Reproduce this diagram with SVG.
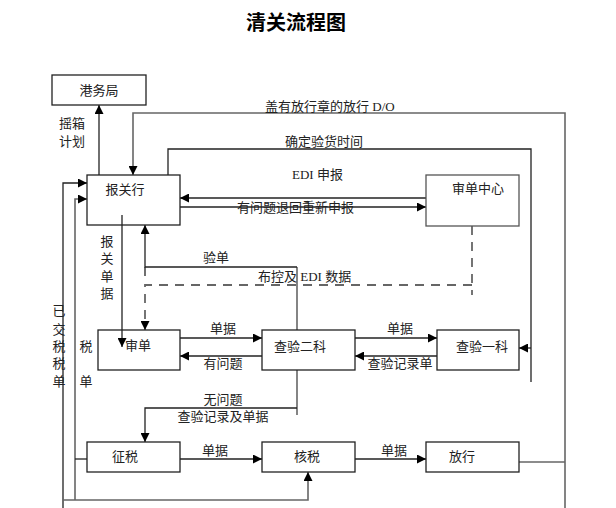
<svg xmlns="http://www.w3.org/2000/svg" width="616" height="508" viewBox="0 0 616 508">
<style>
text{font-family:"Liberation Serif","Noto Sans CJK SC",serif;font-size:13px;fill:#222}
.t{font-family:"Noto Sans CJK SC",sans-serif;font-size:20px;font-weight:bold;fill:#000}
.m{text-anchor:middle}
.box{fill:#fff;stroke:#222;stroke-width:1.3}
.ln{fill:none;stroke:#222;stroke-width:1.3}
.gl{fill:none;stroke:#666;stroke-width:1.6}
.ds{fill:none;stroke:#666;stroke-width:1.8;stroke-dasharray:9,7}
</style>
<defs>
<marker id="ar" viewBox="0 0 10 10" refX="10" refY="5" markerWidth="9" markerHeight="9" markerUnits="userSpaceOnUse" orient="auto"><path d="M0,0 L10,5 L0,10 z" fill="#000"/></marker>
</defs>
<rect width="616" height="508" fill="#fff"/>
<text class="t m" x="296" y="30">清关流程图</text>

<g id="connectors">
<path class="ln" d="M99,175 V105" marker-end="url(#ar)"/>
<path class="gl" d="M565,508 V113 H133 V175" marker-end="url(#ar)"/>
<path class="gl" d="M519,462 H565"/>
<path class="ln" d="M168,175 V149 H531 V382"/>
<path class="ln" d="M531,348 H519" marker-end="url(#ar)"/>
<path class="ln" d="M426,198 H180" marker-end="url(#ar)"/>
<path class="ln" d="M180,207 H426" marker-end="url(#ar)"/>
<path class="ds" d="M472,226 V295"/>
<path class="ds" d="M472,285 H145 V330" marker-end="url(#ar)"/>
<path class="gl" d="M297,330 V267"/>
<path class="ln" d="M297,267 H145 V225" marker-end="url(#ar)"/>
<path class="ln" d="M145,267 V276"/>
<path class="ln" d="M122,215 V347" marker-end="url(#ar)"/>
<path class="ln" d="M180,338 H262" marker-end="url(#ar)"/>
<path class="ln" d="M262,356 H180" marker-end="url(#ar)"/>
<path class="ln" d="M355,338 H437" marker-end="url(#ar)"/>
<path class="ln" d="M437,356 H355" marker-end="url(#ar)"/>
<path class="gl" d="M297,370 V415"/>
<path class="ln" d="M297,408 H145 V442" marker-end="url(#ar)"/>
<path class="ln" d="M180,459 H262" marker-end="url(#ar)"/>
<path class="ln" d="M355,459 H426" marker-end="url(#ar)"/>
<path class="ln" d="M63,508 V183 H87" marker-end="url(#ar)"/>
<path class="gl" d="M75,500 V199 H87" marker-end="url(#ar)"/>
<path class="ln" d="M87,459 H75"/>
<path class="gl" d="M63,500 H308 V472" marker-end="url(#ar)"/>
</g>

<g id="labels">
<text class="m" x="72" y="128">摇箱</text>
<text class="m" x="72" y="146">计划</text>
<text x="265" y="111">盖有放行章的放行 D/O</text>
<text x="285" y="146">确定验货时间</text>
<text x="292" y="179">EDI 申报</text>
<text x="237" y="212">有问题退回重新申报</text>
<text class="m" x="107" y="246">报</text>
<text class="m" x="107" y="263">关</text>
<text class="m" x="107" y="281">单</text>
<text class="m" x="107" y="298">据</text>
<text class="m" x="216" y="262">验单</text>
<text x="258" y="281">布控及 EDI 数据</text>
<text class="m" x="223" y="333">单据</text>
<text class="m" x="223" y="368">有问题</text>
<text class="m" x="400" y="333">单据</text>
<text class="m" x="400" y="368">查验记录单</text>
<text class="m" x="59" y="315">已</text>
<text class="m" x="59" y="334">交</text>
<text class="m" x="59" y="351">税</text>
<text class="m" x="59" y="368">税</text>
<text class="m" x="59" y="386">单</text>
<text class="m" x="86" y="351">税</text>
<text class="m" x="86" y="386">单</text>
<text class="m" x="223" y="404">无问题</text>
<text class="m" x="223" y="421">查验记录及单据</text>
<text class="m" x="215" y="455">单据</text>
<text class="m" x="394" y="455">单据</text>
</g>

<g id="n-gangwuju"><rect class="box" x="52" y="75" width="94" height="30"/><text class="m" x="99" y="95">港务局</text></g>
<g id="n-baoguanhang"><rect class="box" x="87" y="175" width="93" height="50" fill="none" style="fill:none"/><text class="m" x="125" y="194">报关行</text></g>
<g id="n-shendanzhongxin"><rect class="box" x="426" y="175" width="93" height="51" style="stroke:#555"/><text class="m" x="478" y="193">审单中心</text></g>
<g id="n-shendan"><rect class="box" x="98" y="330" width="82" height="40" style="fill:none"/><text class="m" x="138" y="350">审单</text></g>
<g id="n-chayan2"><rect class="box" x="262" y="330" width="93" height="40" style="fill:none"/><text class="m" x="300" y="351">查验二科</text></g>
<g id="n-chayan1"><rect class="box" x="437" y="330" width="82" height="40"/><text class="m" x="482" y="351">查验一科</text></g>
<g id="n-zhengshui"><rect class="box" x="87" y="442" width="93" height="30"/><text class="m" x="125" y="461">征税</text></g>
<g id="n-heshui"><rect class="box" x="262" y="442" width="93" height="30"/><text class="m" x="307" y="461">核税</text></g>
<g id="n-fangxing"><rect class="box" x="426" y="442" width="93" height="30"/><text class="m" x="462" y="461">放行</text></g>
</svg>
